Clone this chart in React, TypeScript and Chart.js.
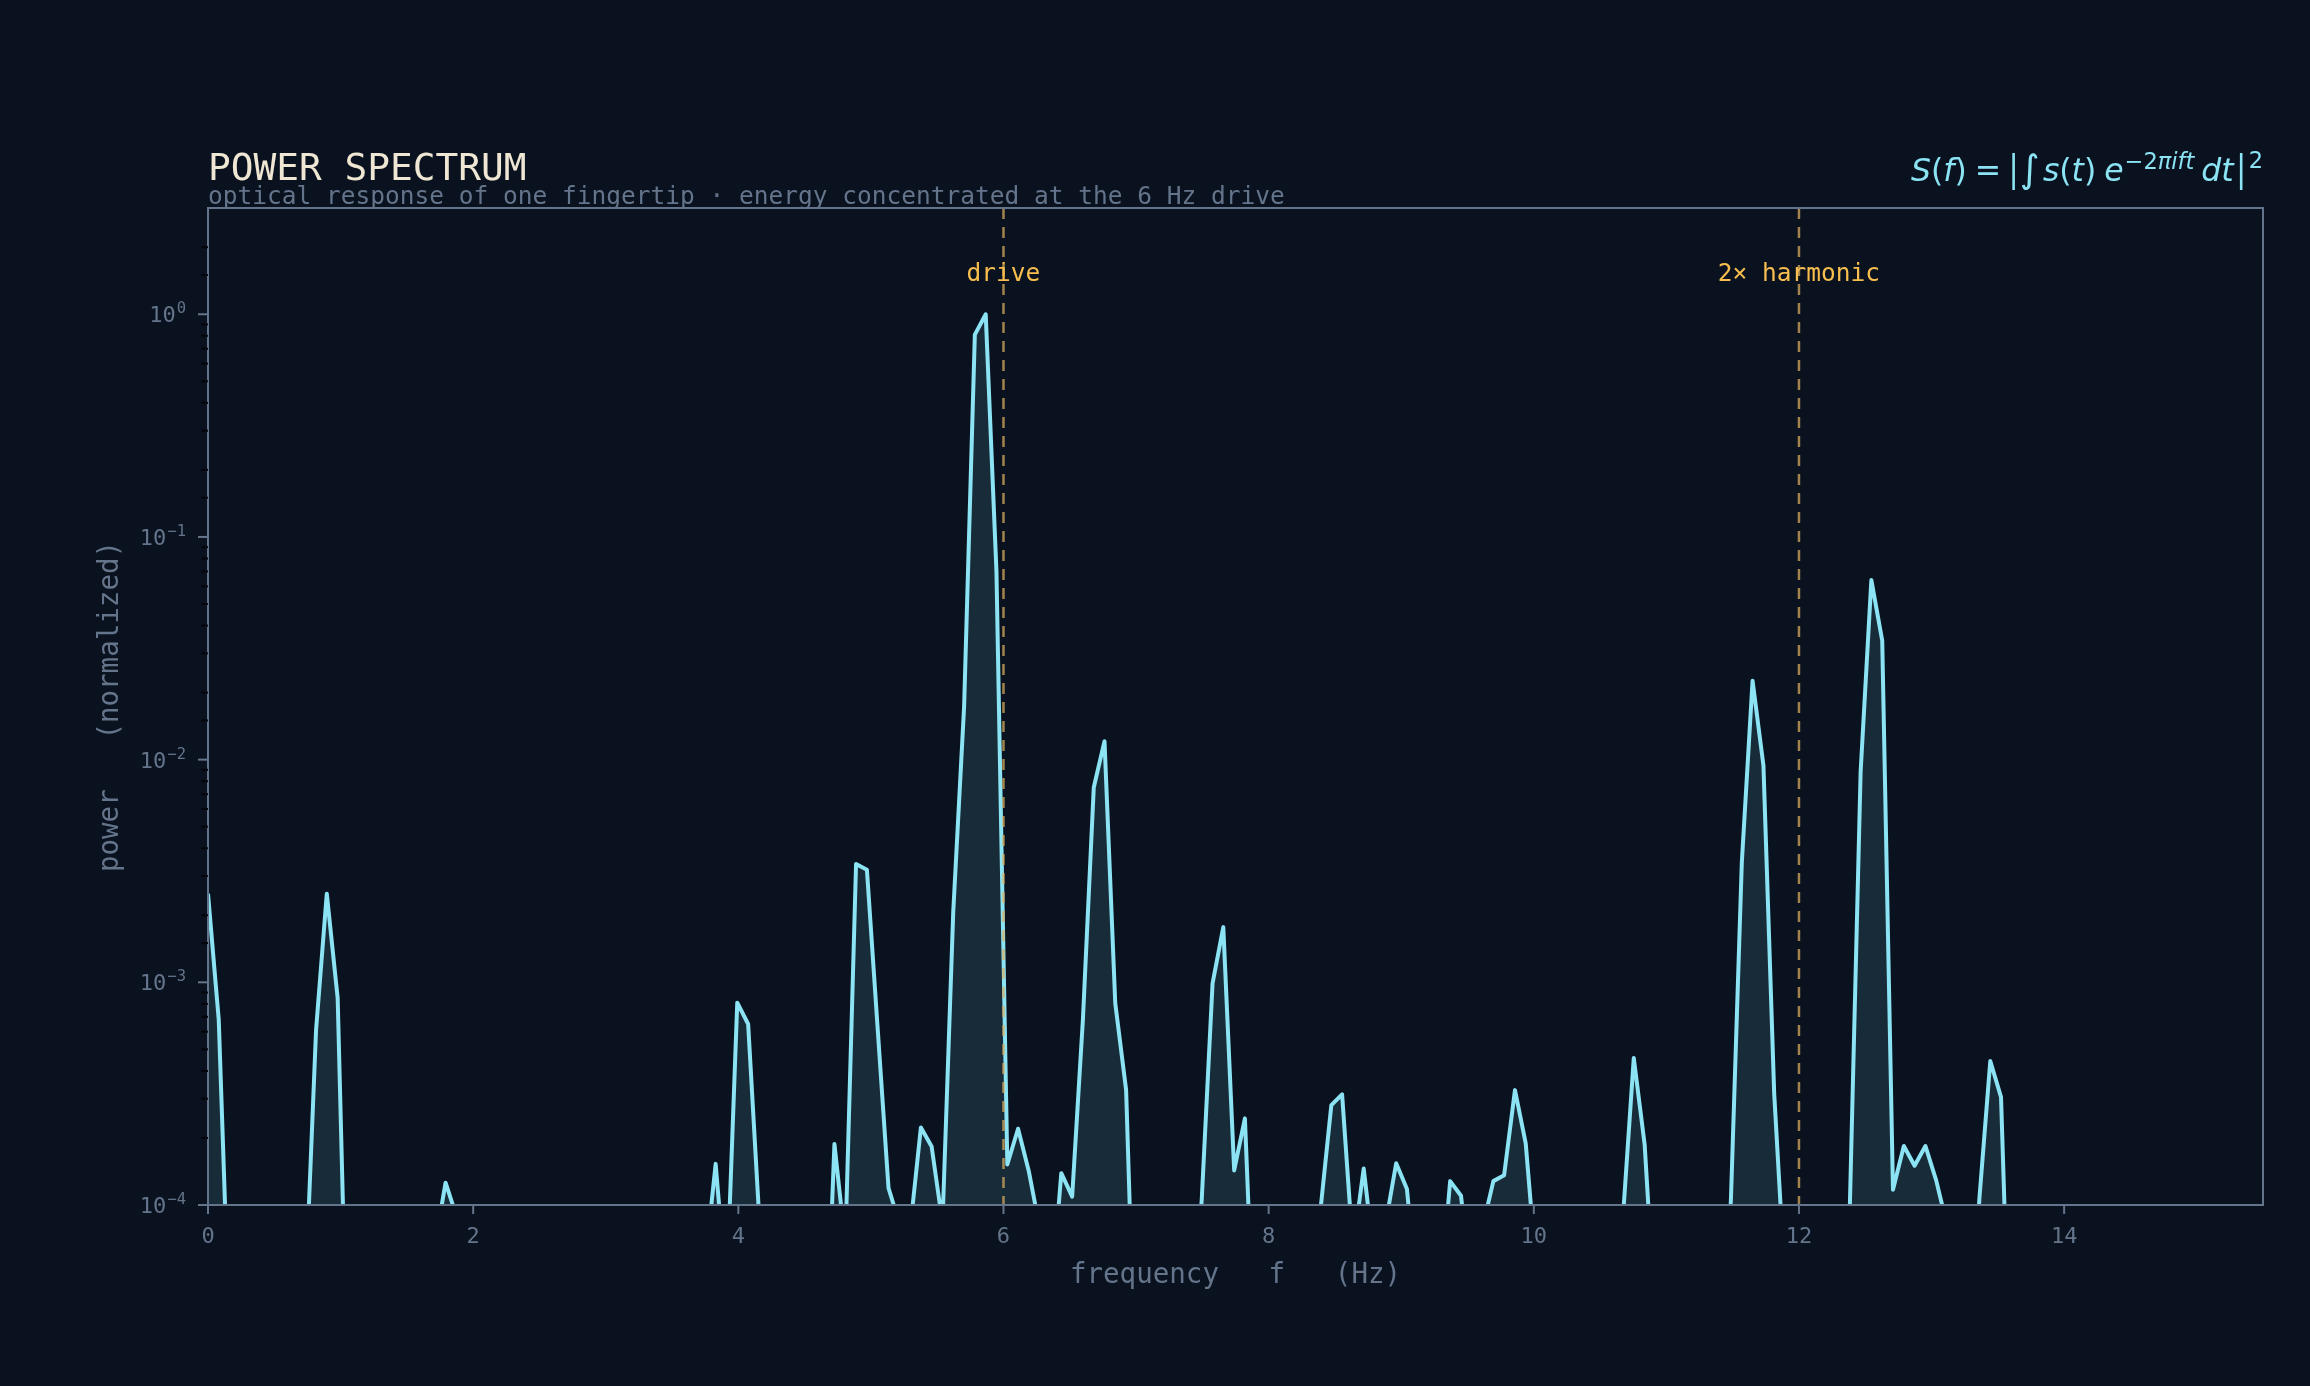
import React, { useEffect, useRef } from 'react';
import { Chart, registerables } from 'chart.js';

Chart.register(...registerables);

const W = 2310;
const H = 1386;

// Spectrum samples (frequency in Hz, normalized power). Bins that sit below
// the 1e-4 floor are kept so the line dips out of the plot between peaks.
const freqHz = [
  0.0, 0.081, 0.163,
  0.733, 0.815, 0.896, 0.978, 1.059,
  1.711, 1.792, 1.874,
  3.748, 3.829, 3.911, 3.992, 4.074, 4.155,
  4.644, 4.725, 4.807, 4.888, 4.97, 5.051, 5.133, 5.214, 5.296, 5.377, 5.458, 5.54,
  5.621, 5.703, 5.784, 5.866, 5.947, 6.029, 6.11, 6.192, 6.273, 6.355, 6.436, 6.518,
  6.599, 6.681, 6.762, 6.843, 6.925, 7.006,
  7.414, 7.495, 7.577, 7.658, 7.74, 7.821, 7.903,
  8.391, 8.473, 8.554, 8.636, 8.717, 8.799, 8.88, 8.962, 9.043, 9.125,
  9.288, 9.369, 9.451, 9.532, 9.613, 9.695, 9.776, 9.858, 9.939, 10.021,
  10.673, 10.754, 10.836, 10.917,
  11.406, 11.487, 11.569, 11.65, 11.732, 11.813, 11.895,
  12.383, 12.465, 12.546, 12.628, 12.709, 12.791, 12.872, 12.954, 13.035, 13.117,
  13.28, 13.361, 13.443, 13.524, 13.605,
  15.479,
];

const power = [
  2.5e-3, 6.8e-4, 2.5e-5,
  3.9e-5, 6.1e-4, 2.5e-3, 8.5e-4, 1.1e-5,
  6.6e-5, 1.26e-4, 8.9e-5,
  5.3e-5, 1.53e-4, 4.0e-5, 8.1e-4, 6.5e-4, 9.3e-5,
  1.1e-5, 1.88e-4, 6.6e-5, 3.4e-3, 3.2e-3, 6.2e-4, 1.19e-4, 8.3e-5, 7.8e-5, 2.23e-4, 1.83e-4, 8.3e-5,
  2.07e-3, 1.73e-2, 0.81, 1.0, 7.0e-2, 1.52e-4, 2.2e-4, 1.41e-4, 7.9e-5, 3.5e-5, 1.39e-4, 1.09e-4,
  6.8e-4, 7.5e-3, 1.21e-2, 8.05e-4, 3.28e-4, 9.3e-6,
  2.5e-5, 1.05e-4, 9.9e-4, 1.77e-3, 1.43e-4, 2.45e-4, 1.5e-5,
  9.5e-5, 2.81e-4, 3.14e-4, 6.3e-5, 1.46e-4, 5.5e-5, 8.1e-5, 1.54e-4, 1.18e-4, 3.7e-5,
  3.5e-5, 1.28e-4, 1.1e-4, 4.0e-5, 7.9e-5, 1.28e-4, 1.36e-4, 3.28e-4, 1.89e-4, 4.9e-5,
  8.9e-5, 4.57e-4, 1.87e-4, 3.0e-5,
  1.0e-5, 1.07e-4, 3.46e-3, 2.26e-2, 9.4e-3, 3.18e-4, 4.4e-5,
  9.5e-5, 8.8e-3, 6.4e-2, 3.42e-2, 1.17e-4, 1.84e-4, 1.5e-4, 1.84e-4, 1.29e-4, 8.1e-5,
  1.6e-5, 1.07e-4, 4.43e-4, 3.05e-4, 9.3e-6,
  2.0e-6,
];

const markerHz = [6, 12];
const markerLabels = ['drive', '2\u00d7 harmonic'];

const TITLE = 'POWER SPECTRUM';
const SUBTITLE = 'optical response of one fingertip \u00b7 energy concentrated at the 6 Hz drive';
const X_TITLE = 'frequency   f   (Hz)';
const Y_TITLE = 'power   (normalized)';

const BG = '#09121e';
const LINE = '#8be3f4';
const FILL = 'rgba(139,227,244,0.12)';
const SLATE = '#64748b';
const CREAM = '#efe6d3';
const AMBER = '#f7bd4e';
const MONO = '"DejaVu Sans Mono", monospace';
const SANS = '"DejaVu Sans", sans-serif';

function isDecade(v: number) {
  const e = Math.log10(v);
  return Math.abs(e - Math.round(e)) < 1e-6;
}

function decadeExponent(v: number) {
  return String(Math.round(Math.log10(v))).replace('-', '\u2212');
}

type Piece = { t?: string; font?: string; dy?: number; gap?: number; bar?: boolean };

function drawFormula(ctx: CanvasRenderingContext2D, right: number, base: number) {
  const it = (s: number) => `italic ${s}px ${SANS}`;
  const up = (s: number) => `${s}px ${SANS}`;
  const M = 31.5;
  const S = 22.5;
  const pieces: Piece[] = [
    { t: 'S', font: it(M) }, { t: '(', font: up(M) }, { t: 'f', font: it(M) }, { t: ')', font: up(M) },
    { gap: 8 }, { t: '=', font: up(M) }, { gap: 11 },
    { bar: true }, { gap: 5 },
    { t: '\u222b', font: up(38), dy: 1 }, { gap: 3 },
    { t: 's', font: it(M) }, { t: '(', font: up(M) }, { t: 't', font: it(M) }, { t: ')', font: up(M) },
    { gap: 8 },
    { t: 'e', font: it(M) }, { gap: 1 },
    { t: '\u22122', font: up(S), dy: -12 }, { t: '\u03c0ift', font: it(S), dy: -12 },
    { gap: 7 },
    { t: 'd', font: it(M) }, { t: 't', font: it(M) }, { gap: 6 },
    { bar: true }, { gap: 6 },
    { t: '2', font: up(S), dy: -13 },
  ];
  const BAR_W = 3;
  const widths = pieces.map((p) => {
    if (p.gap !== undefined) return p.gap;
    if (p.bar) return BAR_W;
    ctx.font = p.font!;
    return ctx.measureText(p.t!).width;
  });
  const total = widths.reduce((a, b) => a + b, 0);
  let x = right - total;
  ctx.fillStyle = LINE;
  ctx.strokeStyle = LINE;
  ctx.textAlign = 'left';
  ctx.textBaseline = 'alphabetic';
  pieces.forEach((p, i) => {
    if (p.bar) {
      ctx.lineWidth = 2.6;
      ctx.beginPath();
      ctx.moveTo(x + BAR_W / 2, base - 28);
      ctx.lineTo(x + BAR_W / 2, base + 9);
      ctx.stroke();
    } else if (p.t) {
      ctx.font = p.font!;
      ctx.fillText(p.t, x, base + (p.dy ?? 0));
    }
    x += widths[i];
  });
}

const decor = {
  id: 'decor',
  beforeDraw(chart: any) {
    const ctx: CanvasRenderingContext2D = chart.ctx;
    ctx.save();
    ctx.fillStyle = BG;
    ctx.fillRect(0, 0, chart.width, chart.height);
    ctx.restore();
  },
  afterDatasetsDraw(chart: any) {
    const ctx: CanvasRenderingContext2D = chart.ctx;
    const { top, bottom } = chart.chartArea;
    const xs = chart.scales.x;
    ctx.save();
    markerHz.forEach((f, i) => {
      const px = xs.getPixelForValue(f);
      ctx.strokeStyle = 'rgba(222,175,95,0.72)';
      ctx.lineWidth = 2.5;
      ctx.setLineDash([11, 8]);
      ctx.beginPath();
      ctx.moveTo(px, top);
      ctx.lineTo(px, bottom);
      ctx.stroke();
      ctx.setLineDash([]);
      ctx.fillStyle = AMBER;
      ctx.font = `24.5px ${MONO}`;
      ctx.textAlign = 'center';
      ctx.textBaseline = 'alphabetic';
      ctx.fillText(markerLabels[i], px, top + 73);
    });
    ctx.restore();
  },
  afterDraw(chart: any) {
    const ctx: CanvasRenderingContext2D = chart.ctx;
    const { left, right, top, bottom } = chart.chartArea;
    const xs = chart.scales.x;
    const ys = chart.scales.y;
    ctx.save();

    // titles
    ctx.textAlign = 'left';
    ctx.textBaseline = 'alphabetic';
    ctx.fillStyle = CREAM;
    ctx.font = `37.8px ${MONO}`;
    ctx.fillText(TITLE, left, top - 28);
    ctx.fillStyle = SLATE;
    ctx.font = `24.5px ${MONO}`;
    ctx.fillText(SUBTITLE, left, top - 4);

    drawFormula(ctx, right, top - 27);

    // frame
    ctx.strokeStyle = SLATE;
    ctx.lineWidth = 2;
    ctx.strokeRect(left, top, right - left, bottom - top);

    // y ticks: decades long, slate and labelled as powers of ten;
    // in-between values short and dark
    ys.ticks.forEach((t: any) => {
      const v = t.value;
      if (v >= ys.max * 0.999) return;
      const py = ys.getPixelForValue(v);
      const major = isDecade(v);
      ctx.strokeStyle = major ? SLATE : '#02050a';
      ctx.lineWidth = 2;
      ctx.beginPath();
      ctx.moveTo(left - (major ? 10 : 6.5), py);
      ctx.lineTo(left, py);
      ctx.stroke();
      if (major) {
        const exp = decadeExponent(v);
        ctx.fillStyle = SLATE;
        ctx.textAlign = 'right';
        ctx.textBaseline = 'alphabetic';
        ctx.font = `15.5px ${MONO}`;
        const ew = ctx.measureText(exp).width;
        const xr = left - 22;
        ctx.fillText(exp, xr, py - 1);
        ctx.font = `22px ${MONO}`;
        ctx.fillText('10', xr - ew - 1, py + 8);
      }
    });

    // x tick marks
    xs.ticks.forEach((t: any) => {
      const px = xs.getPixelForValue(t.value);
      ctx.strokeStyle = SLATE;
      ctx.lineWidth = 2;
      ctx.beginPath();
      ctx.moveTo(px, bottom);
      ctx.lineTo(px, bottom + 9);
      ctx.stroke();
    });

    // axis titles
    ctx.fillStyle = SLATE;
    ctx.font = `27.5px ${MONO}`;
    ctx.textAlign = 'center';
    ctx.textBaseline = 'alphabetic';
    ctx.fillText(X_TITLE, (left + right) / 2, bottom + 78);
    ctx.translate(118, (top + bottom) / 2);
    ctx.rotate(-Math.PI / 2);
    ctx.fillText(Y_TITLE, 0, 0);

    ctx.restore();
  },
};

export default function App() {
  const ref = useRef<HTMLCanvasElement>(null);

  useEffect(() => {
    document.body.style.margin = '0';
    document.body.style.background = BG;
    const canvas = ref.current;
    if (!canvas) return;
    Chart.defaults.font.family = MONO;

    const chart = new Chart(canvas, {
      type: 'line',
      data: {
        datasets: [
          {
            data: freqHz.map((f, i) => ({ x: f, y: power[i] })),
            borderColor: LINE,
            borderWidth: 4,
            backgroundColor: FILL,
            fill: 'start',
            pointRadius: 0,
            tension: 0,
            borderJoinStyle: 'round',
          },
        ],
      },
      options: {
        responsive: false,
        animation: false,
        devicePixelRatio: 1,
        events: [],
        layout: { padding: { left: 0, top: 208, right: 47, bottom: 0 } },
        plugins: {
          legend: { display: false },
          tooltip: { enabled: false },
          title: { display: false },
        },
        scales: {
          x: {
            type: 'linear',
            min: 0,
            max: 15.5,
            grid: { display: false, drawTicks: false },
            border: { display: false },
            ticks: {
              stepSize: 2,
              includeBounds: false,
              autoSkip: false,
              maxRotation: 0,
              padding: 19,
              color: SLATE,
              font: { family: MONO, size: 22 },
            },
            afterFit: (s: any) => {
              s.height = 181;
            },
          },
          y: {
            type: 'logarithmic',
            min: 1e-4,
            max: 3,
            grid: { display: false, drawTicks: false },
            border: { display: false },
            ticks: { display: false, autoSkip: false },
            afterFit: (s: any) => {
              s.width = 208;
            },
          },
        },
      },
      plugins: [decor],
    } as any);

    return () => chart.destroy();
  }, []);

  return (
    <div style={{ position: 'fixed', left: 0, top: 0, width: W, height: H, background: BG }}>
      <canvas ref={ref} width={W} height={H} style={{ display: 'block', width: W, height: H }} />
    </div>
  );
}
